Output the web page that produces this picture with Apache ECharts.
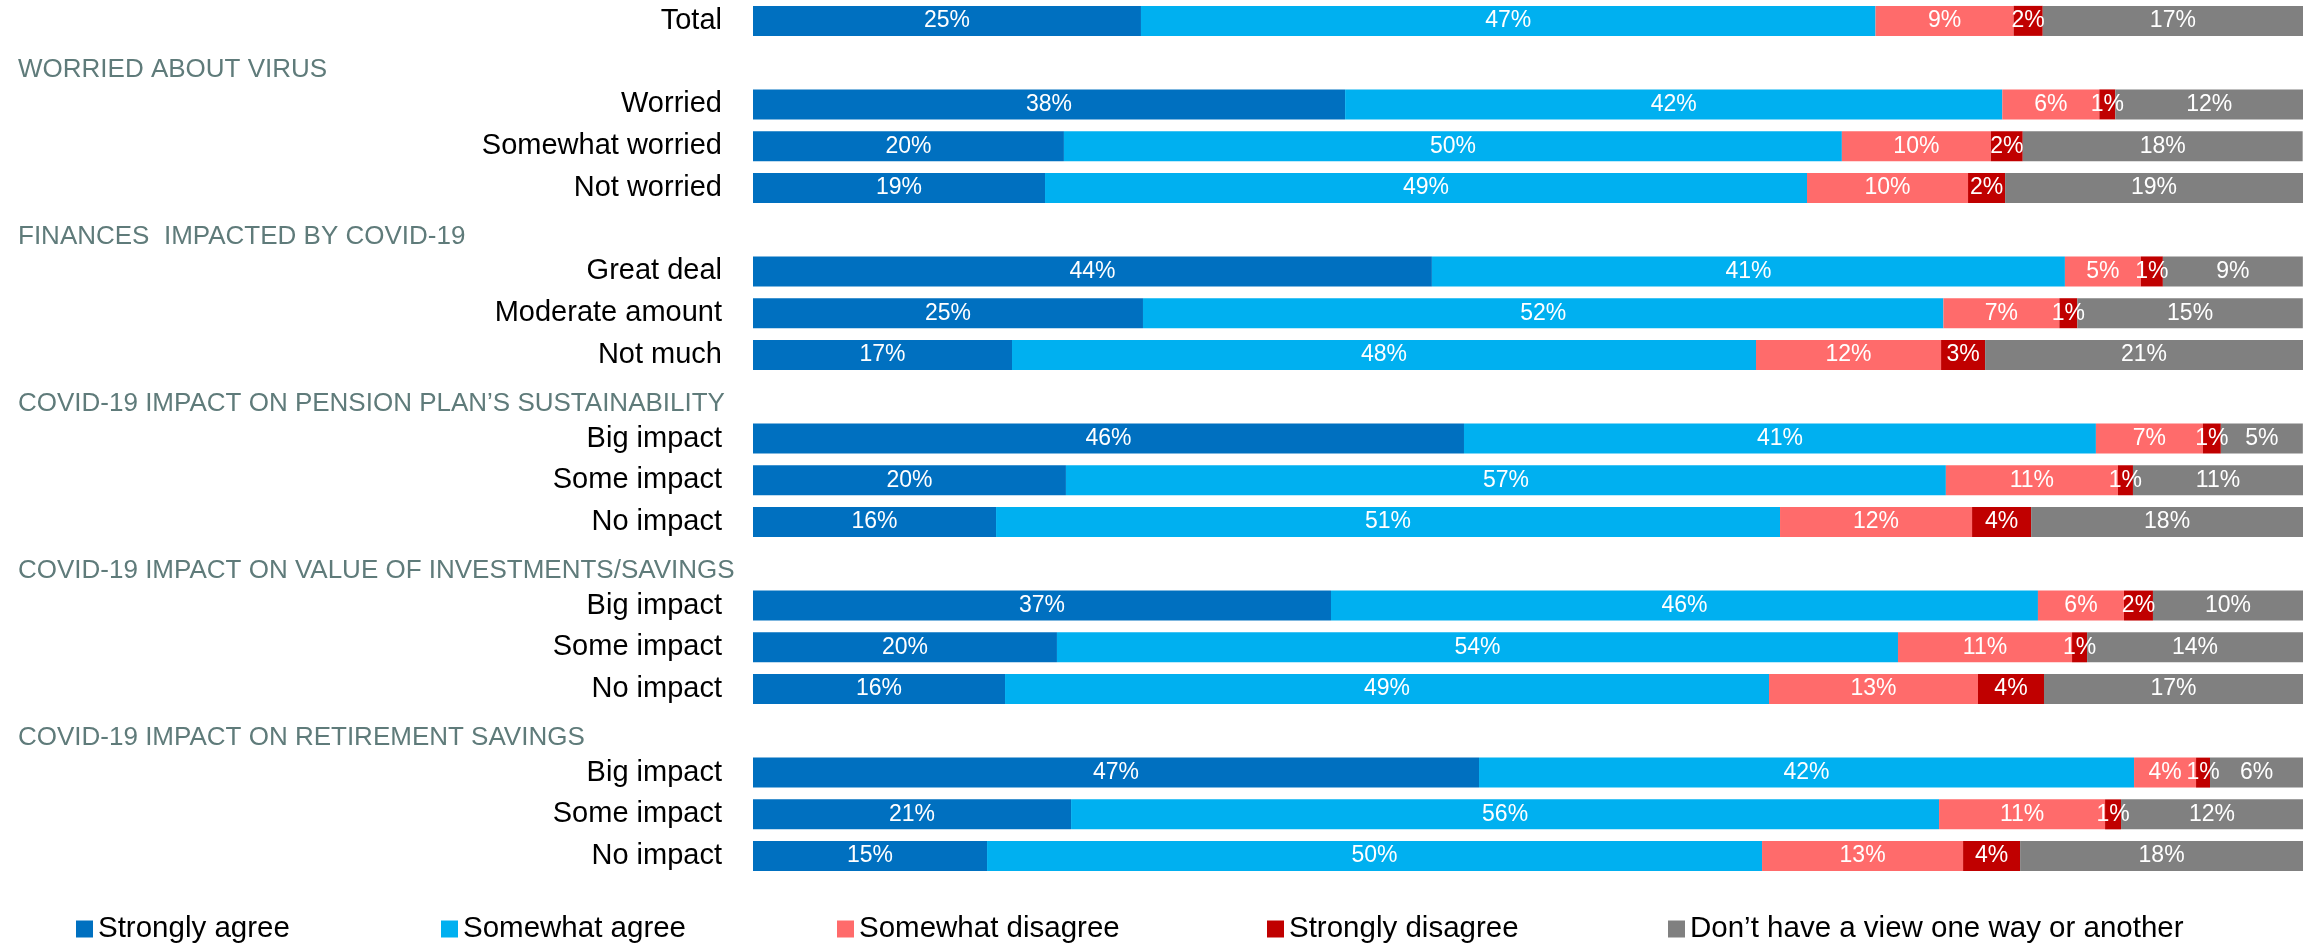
<!DOCTYPE html>
<html>
<head>
<meta charset="utf-8">
<script src="https://cdn.jsdelivr.net/npm/echarts@6/dist/echarts.min.js"></script>
<style>
html,body{margin:0;padding:0;background:#fff;}
#chart{width:2315px;height:943px;}
</style>
</head>
<body>
<div id="chart"></div>
<script>
// ---- data ----
const headers = [
  'WORRIED ABOUT VIRUS',
  'FINANCES  IMPACTED BY COVID-19',
  'COVID-19 IMPACT ON PENSION PLAN\u2019S SUSTAINABILITY',
  'COVID-19 IMPACT ON VALUE OF INVESTMENTS/SAVINGS',
  'COVID-19 IMPACT ON RETIREMENT SAVINGS'
];
const rowGroups = [
  ['Worried', 'Somewhat worried', 'Not worried'],
  ['Great deal', 'Moderate amount', 'Not much'],
  ['Big impact', 'Some impact', 'No impact'],
  ['Big impact', 'Some impact', 'No impact'],
  ['Big impact', 'Some impact', 'No impact']
];
const seriesNames = ['Strongly agree', 'Somewhat agree', 'Somewhat disagree', 'Strongly disagree', 'Don\u2019t have a view one way or another'];
// rows in order: Total, then the 15 group rows
const stronglyAgree    = [25.03, 38.2, 20.06, 18.84, 43.8, 25.16, 16.71, 45.87, 20.19, 15.68, 37.29, 19.61, 16.26, 46.84, 20.52, 15.1];
const somewhatAgree    = [47.39, 42.4, 50.19, 49.16, 40.84, 51.64, 48.0, 40.77, 56.77, 50.58, 45.61, 54.26, 49.29, 42.26, 56.0, 50.0];
const somewhatDisagree = [8.91, 6.26, 9.61, 10.39, 4.9, 7.48, 11.94, 6.9, 11.1, 12.39, 5.55, 11.23, 13.48, 4.0, 10.71, 12.97];
const stronglyDisagree = [1.88, 1.03, 2.06, 2.39, 1.42, 1.16, 2.84, 1.16, 0.97, 3.81, 1.87, 0.97, 4.26, 0.9, 1.03, 3.68];
const noView           = [16.79, 12.11, 18.06, 19.23, 9.03, 14.55, 20.52, 5.29, 10.97, 17.55, 9.68, 13.94, 16.71, 6.0, 11.74, 18.26];
const colors = ['#0070C0', '#00B0F0', '#FF6B6B', '#C00000', '#808080'];

// ---- build category list with header slots ----
const categories = ['Total'];
const isHeader = [false];
headers.forEach((h, i) => {
  categories.push(h); isHeader.push(true);
  rowGroups[i].forEach(r => { categories.push(r); isHeader.push(false); });
});
function expand(vals) {
  const out = [];
  let k = 0;
  isHeader.forEach(h => { out.push(h ? '-' : vals[k++]); });
  return out;
}
const allVals = [stronglyAgree, somewhatAgree, somewhatDisagree, stronglyDisagree, noView];

const FONT = '"Liberation Sans", Arial, sans-serif';
const series = seriesNames.map((name, i) => ({
  name: name,
  type: 'bar',
  stack: 'total',
  barWidth: 30,
  data: expand(allVals[i]),
  itemStyle: { color: colors[i] },
  label: {
    show: true,
    position: 'inside',
    color: '#fff',
    fontFamily: FONT,
    fontSize: 23,
    formatter: p => Math.round(p.value) + '%'
  },
  emphasis: { disabled: true }
}));

const legendLefts = [76, 441, 837, 1267, 1668];
const legends = seriesNames.map((n, i) => ({
  data: [n],
  left: legendLefts[i],
  top: 914,
  padding: 0,
  icon: 'rect',
  itemWidth: 17,
  itemHeight: 17,
  textStyle: { fontFamily: FONT, fontSize: 29.5, color: '#000' }
}));

const chart = echarts.init(document.getElementById('chart'), null, { renderer: 'canvas' });
chart.setOption({
  animation: false,
  backgroundColor: '#fff',
  color: colors,
  legend: legends,
  grid: { left: 753, right: 12, top: 0, height: 877, containLabel: false },
  xAxis: { type: 'value', min: 0, max: 100, show: false },
  yAxis: {
    type: 'category',
    inverse: true,
    data: categories,
    axisLine: { show: false },
    axisTick: { show: false },
    axisLabel: {
      margin: 31,
      fontFamily: FONT,
      fontSize: 29,
      color: '#000',
      interval: 0,
      formatter: (v, idx) => isHeader[idx] ? '{h|' + v + '}' : v,
      rich: {
        h: {
          width: 704,
          align: 'left',
          fontFamily: FONT,
          fontSize: 26,
          color: '#5F7B7A',
          padding: [14, 0, 0, 0]
        }
      }
    }
  },
  series: series
});
</script>
</body>
</html>
